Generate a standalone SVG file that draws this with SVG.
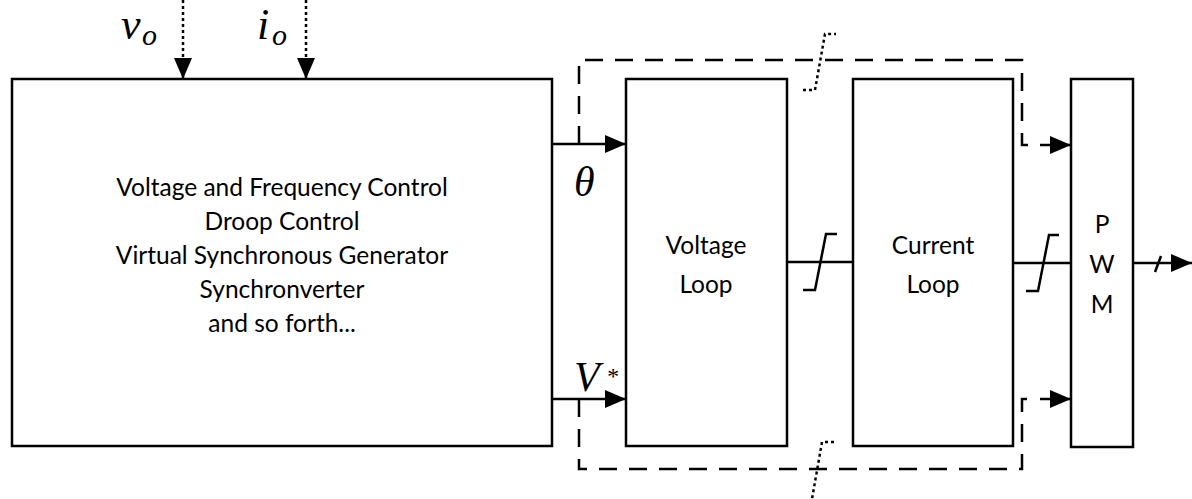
<svg xmlns="http://www.w3.org/2000/svg" width="1192" height="499" viewBox="0 0 1192 499">
<style>
.box{fill:#fff;stroke:#000;stroke-width:2.5}
.ln{fill:none;stroke:#000;stroke-width:2.5}
.dash{fill:none;stroke:#000;stroke-width:2.5;stroke-dasharray:18 12}
.dot{fill:none;stroke:#000;stroke-width:2.5;stroke-dasharray:3 3}
.t{font-family:Lato,"Liberation Sans",sans-serif;font-size:24.5px;fill:#000;text-anchor:middle}
.m{font-family:"Liberation Serif",serif;font-style:italic;fill:#000}
</style>
<defs>
<marker id="ah" markerUnits="userSpaceOnUse" markerWidth="24" markerHeight="20" refX="21" refY="9" orient="auto">
<path d="M0,0 L21,9 L0,18 Z" fill="#000"/>
</marker>
</defs>
<g id="main-block">
<rect class="box" x="12" y="79" width="540" height="367"/>
<text class="t" x="282" y="196">Voltage and Frequency Control</text>
<text class="t" x="282" y="230">Droop Control</text>
<text class="t" x="282" y="264">Virtual Synchronous Generator</text>
<text class="t" x="282" y="298">Synchronverter</text>
<text class="t" x="282" y="332">and so forth...</text>
</g>
<g id="voltage-loop">
<rect class="box" x="626" y="79" width="161" height="367"/>
<text class="t" x="706" y="254">Voltage</text>
<text class="t" x="706" y="293">Loop</text>
</g>
<g id="current-loop">
<rect class="box" x="853" y="79" width="160" height="367"/>
<text class="t" x="933" y="254">Current</text>
<text class="t" x="933" y="293">Loop</text>
</g>
<g id="pwm">
<rect class="box" x="1071" y="79" width="62" height="368"/>
<text class="t" x="1102" y="233">P</text>
<text class="t" x="1102" y="273">W</text>
<text class="t" x="1102" y="313">M</text>
</g>
<g id="labels">
<text class="m" x="121" y="39" font-size="44">v</text>
<text class="m" x="142" y="45" font-size="30">o</text>
<text class="m" x="257" y="39" font-size="44">i</text>
<text class="m" x="272" y="45" font-size="30">o</text>
<text class="m" x="574" y="196" font-size="42">θ</text>
<text class="m" x="574" y="391" font-size="42">V</text>
<text class="m" x="606" y="384" font-size="24">*</text>
</g>
<g id="connectors">
<path class="dot" d="M183,0 V62"/>
<path class="ln" d="M183,62 V79" marker-end="url(#ah)"/>
<path class="dot" d="M306,0 V62"/>
<path class="ln" d="M306,62 V79" marker-end="url(#ah)"/>
<path class="ln" d="M552,144 H626" marker-end="url(#ah)"/>
<path class="ln" d="M552,399 H626" marker-end="url(#ah)"/>
<path class="dash" d="M579,144 V60 H1022 V145 H1030"/>
<path class="ln" d="M1040,145 H1071" marker-end="url(#ah)"/>
<path class="dash" d="M579,399 V469 H1022 V399 H1030"/>
<path class="ln" d="M1040,399 H1071" marker-end="url(#ah)"/>
<path class="ln" d="M787,262 H853"/>
<path class="ln" d="M837,234 H826 L815,290 H803"/>
<path class="ln" d="M1013,263 H1071"/>
<path class="ln" d="M1059,235 H1049 L1038,291 H1026"/>
<path class="ln" d="M1133,263 H1192" marker-end="url(#ah)"/>
<path class="ln" d="M1155,272 L1161,256"/>
<path class="dot" d="M803,90 H815 L825,34 H836"/>
<path class="dot" d="M834,442 H822 L812,499"/>
</g>
</svg>
